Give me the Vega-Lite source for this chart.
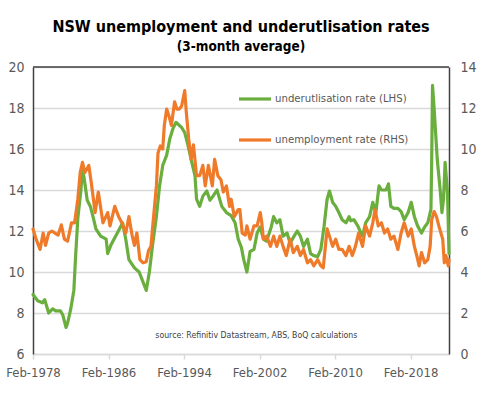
{
  "$schema": "https://vega.github.io/schema/vega-lite/v6.json",
  "width": 416,
  "height": 287,
  "autosize": {"type": "none"},
  "padding": {"left": 33, "top": 67, "right": 35, "bottom": 41},
  "title": {
    "text": "NSW unemployment and underutlisation rates",
    "subtitle": "(3-month average)",
    "font": "DejaVu Sans Condensed, Liberation Sans, sans-serif",
    "subtitleFont": "DejaVu Sans Condensed, Liberation Sans, sans-serif",
    "fontSize": 16,
    "fontWeight": "bold",
    "subtitleFontSize": 13.5,
    "subtitleFontWeight": "bold",
    "color": "#000000",
    "subtitleColor": "#000000",
    "anchor": "middle",
    "frame": "group",
    "offset": 7,
    "subtitlePadding": 5
  },
  "config": {
    "view": {"stroke": null},
    "font": "DejaVu Sans Condensed, Liberation Sans, sans-serif",
    "axis": {
      "labelFont": "DejaVu Sans Condensed, Liberation Sans, sans-serif",
      "labelColor": "#595959",
      "labelFontSize": 14,
      "title": null,
      "grid": false,
      "ticks": false,
      "domain": false
    }
  },
  "resolve": {"scale": {"y": "independent"}},
  "layer": [
    {
      "data": {"values": [
        {"d": "1978-02", "u": 8.9}, {"d": "1978-08", "u": 8.6}, {"d": "1979-02", "u": 8.5}, {"d": "1979-05", "u": 8.65},
        {"d": "1979-10", "u": 8.0}, {"d": "1980-03", "u": 8.2}, {"d": "1980-07", "u": 8.1}, {"d": "1981-01", "u": 8.1},
        {"d": "1981-04", "u": 7.9}, {"d": "1981-08", "u": 7.3}, {"d": "1981-10", "u": 7.5}, {"d": "1982-02", "u": 8.2},
        {"d": "1982-06", "u": 9.1}, {"d": "1982-08", "u": 10.6}, {"d": "1982-11", "u": 12.6}, {"d": "1983-03", "u": 14.0},
        {"d": "1983-05", "u": 15.0}, {"d": "1983-07", "u": 14.6}, {"d": "1983-11", "u": 13.5}, {"d": "1984-03", "u": 13.2},
        {"d": "1984-07", "u": 12.6}, {"d": "1984-10", "u": 12.1}, {"d": "1985-04", "u": 11.75}, {"d": "1985-11", "u": 11.6},
        {"d": "1986-01", "u": 10.9}, {"d": "1986-05", "u": 11.3}, {"d": "1986-09", "u": 11.6}, {"d": "1987-04", "u": 12.1},
        {"d": "1987-08", "u": 12.4}, {"d": "1987-12", "u": 11.6}, {"d": "1988-04", "u": 10.6}, {"d": "1988-11", "u": 10.2},
        {"d": "1989-05", "u": 10.0}, {"d": "1989-09", "u": 9.6}, {"d": "1990-02", "u": 9.1}, {"d": "1990-06", "u": 10.0},
        {"d": "1990-10", "u": 11.3}, {"d": "1991-03", "u": 12.7}, {"d": "1991-07", "u": 14.2}, {"d": "1991-11", "u": 15.2},
        {"d": "1992-04", "u": 15.7}, {"d": "1992-08", "u": 16.5}, {"d": "1992-12", "u": 17.0}, {"d": "1993-04", "u": 17.3},
        {"d": "1993-11", "u": 17.05}, {"d": "1994-03", "u": 16.8}, {"d": "1994-07", "u": 16.2}, {"d": "1994-11", "u": 15.5},
        {"d": "1995-04", "u": 14.7}, {"d": "1995-06", "u": 13.55}, {"d": "1995-10", "u": 13.2}, {"d": "1996-02", "u": 13.7},
        {"d": "1996-07", "u": 13.95}, {"d": "1996-11", "u": 13.5}, {"d": "1997-03", "u": 13.7}, {"d": "1997-08", "u": 14.0},
        {"d": "1998-02", "u": 13.2}, {"d": "1998-08", "u": 12.9}, {"d": "1999-02", "u": 12.75}, {"d": "1999-07", "u": 12.4},
        {"d": "1999-11", "u": 11.6}, {"d": "2000-03", "u": 11.2}, {"d": "2000-06", "u": 10.6}, {"d": "2000-10", "u": 10.0},
        {"d": "2001-02", "u": 11.0}, {"d": "2001-07", "u": 11.1}, {"d": "2001-11", "u": 11.9}, {"d": "2002-03", "u": 12.2},
        {"d": "2002-07", "u": 11.6}, {"d": "2002-11", "u": 11.5}, {"d": "2003-05", "u": 12.2}, {"d": "2003-08", "u": 12.7},
        {"d": "2003-12", "u": 12.4}, {"d": "2004-04", "u": 12.55}, {"d": "2004-08", "u": 11.75}, {"d": "2005-01", "u": 11.9},
        {"d": "2005-05", "u": 11.4}, {"d": "2005-10", "u": 11.75}, {"d": "2006-02", "u": 12.0}, {"d": "2006-06", "u": 11.75},
        {"d": "2006-10", "u": 11.25}, {"d": "2007-03", "u": 11.6}, {"d": "2007-07", "u": 10.9}, {"d": "2007-11", "u": 10.8},
        {"d": "2008-04", "u": 10.75}, {"d": "2008-08", "u": 11.1}, {"d": "2008-12", "u": 12.2}, {"d": "2009-04", "u": 13.55},
        {"d": "2009-07", "u": 13.95}, {"d": "2009-11", "u": 13.4}, {"d": "2010-03", "u": 13.2}, {"d": "2010-07", "u": 12.9},
        {"d": "2010-11", "u": 12.55}, {"d": "2011-04", "u": 12.4}, {"d": "2011-08", "u": 12.7}, {"d": "2011-10", "u": 12.5},
        {"d": "2012-02", "u": 12.55}, {"d": "2012-07", "u": 12.25}, {"d": "2012-11", "u": 11.9}, {"d": "2013-01", "u": 11.75},
        {"d": "2013-05", "u": 12.4}, {"d": "2013-10", "u": 12.7}, {"d": "2014-02", "u": 13.4}, {"d": "2014-06", "u": 12.9},
        {"d": "2014-10", "u": 14.2}, {"d": "2015-01", "u": 14.0}, {"d": "2015-07", "u": 14.0}, {"d": "2015-10", "u": 14.3},
        {"d": "2016-01", "u": 13.2}, {"d": "2016-05", "u": 13.1}, {"d": "2016-10", "u": 13.1}, {"d": "2017-02", "u": 12.95},
        {"d": "2017-06", "u": 12.55}, {"d": "2017-11", "u": 12.9}, {"d": "2018-03", "u": 13.4}, {"d": "2018-07", "u": 12.7},
        {"d": "2018-11", "u": 12.25}, {"d": "2019-04", "u": 11.9}, {"d": "2019-08", "u": 12.2}, {"d": "2019-12", "u": 12.4},
        {"d": "2020-04", "u": 13.05}, {"d": "2020-05", "u": 15.5}, {"d": "2020-06", "u": 19.1}, {"d": "2020-08", "u": 18.0},
        {"d": "2020-12", "u": 15.5}, {"d": "2021-04", "u": 13.9}, {"d": "2021-06", "u": 12.9}, {"d": "2021-08", "u": 13.55},
        {"d": "2021-10", "u": 15.35}, {"d": "2022-01", "u": 13.9}, {"d": "2022-03", "u": 10.9}
      ]},
      "mark": {"type": "line", "strokeWidth": 3.2, "strokeJoin": "round", "strokeCap": "round"},
      "encoding": {
        "x": {
          "field": "d", "type": "temporal",
          "scale": {"domain": ["1978-02-01", "2022-03-01"]},
          "axis": {
            "values": [
              {"year": 1978, "month": 2, "date": 1}, {"year": 1986, "month": 2, "date": 1},
              {"year": 1994, "month": 2, "date": 1}, {"year": 2002, "month": 2, "date": 1},
              {"year": 2010, "month": 2, "date": 1}, {"year": 2018, "month": 2, "date": 1}
            ],
            "format": "%b-%Y",
            "labelFontSize": 13,
            "domain": true, "domainColor": "#D9D9D9", "domainWidth": 1.5,
            "ticks": true, "tickColor": "#D9D9D9", "tickSize": 5, "tickWidth": 1.5,
            "labelPadding": 7, "labelFlush": false, "labelOverlap": false
          }
        },
        "y": {
          "field": "u", "type": "quantitative",
          "scale": {"domain": [6, 20], "nice": false, "zero": false},
          "axis": {
            "orient": "left", "values": [6, 8, 10, 12, 14, 16, 18, 20],
            "grid": true, "gridColor": "#D9D9D9", "gridWidth": 1.5,
            "domain": true, "domainColor": "#404040", "domainWidth": 1.5,
            "labelPadding": 9
          }
        },
        "color": {
          "datum": "underutlisation rate (LHS)", "type": "nominal",
          "scale": {"domain": ["underutlisation rate (LHS)", "unemployment rate (RHS)"], "range": ["#6AAE3E", "#EF7B2A"]},
          "legend": {
            "orient": "none", "legendX": 204, "legendY": 14, "title": null,
            "symbolType": "stroke", "symbolSize": 1024, "symbolStrokeWidth": 3.2,
            "labelFont": "DejaVu Sans Condensed, Liberation Sans, sans-serif", "labelFontSize": 11.3, "labelColor": "#595959",
            "rowPadding": 16, "labelOffset": 2
          }
        }
      }
    },
    {
      "data": {"values": [
        {"d": "1978-02", "r": 6.1}, {"d": "1978-06", "r": 5.6}, {"d": "1978-11", "r": 5.1}, {"d": "1979-03", "r": 5.9},
        {"d": "1979-06", "r": 5.3}, {"d": "1979-10", "r": 5.9}, {"d": "1980-02", "r": 6.0}, {"d": "1980-06", "r": 5.9},
        {"d": "1980-10", "r": 5.8}, {"d": "1981-02", "r": 6.3}, {"d": "1981-06", "r": 5.6}, {"d": "1981-10", "r": 5.5},
        {"d": "1982-03", "r": 6.4}, {"d": "1982-07", "r": 6.4}, {"d": "1982-11", "r": 7.55}, {"d": "1983-02", "r": 8.85},
        {"d": "1983-05", "r": 9.35}, {"d": "1983-08", "r": 8.85}, {"d": "1984-01", "r": 9.2}, {"d": "1984-04", "r": 8.4},
        {"d": "1984-09", "r": 6.9}, {"d": "1985-01", "r": 7.9}, {"d": "1985-07", "r": 6.4}, {"d": "1986-01", "r": 6.9},
        {"d": "1986-04", "r": 6.25}, {"d": "1986-10", "r": 7.2}, {"d": "1987-03", "r": 6.7}, {"d": "1987-07", "r": 6.4},
        {"d": "1987-12", "r": 5.9}, {"d": "1988-04", "r": 6.7}, {"d": "1988-08", "r": 5.8}, {"d": "1988-11", "r": 5.3},
        {"d": "1989-02", "r": 5.9}, {"d": "1989-06", "r": 4.6}, {"d": "1989-10", "r": 4.45}, {"d": "1990-02", "r": 4.5},
        {"d": "1990-05", "r": 5.05}, {"d": "1990-08", "r": 5.25}, {"d": "1990-11", "r": 6.55}, {"d": "1991-03", "r": 8.2},
        {"d": "1991-05", "r": 9.8}, {"d": "1991-08", "r": 10.15}, {"d": "1991-11", "r": 10.0}, {"d": "1992-01", "r": 11.15},
        {"d": "1992-04", "r": 11.95}, {"d": "1992-07", "r": 11.6}, {"d": "1992-10", "r": 11.15}, {"d": "1993-02", "r": 12.3},
        {"d": "1993-05", "r": 11.95}, {"d": "1993-08", "r": 11.95}, {"d": "1993-11", "r": 12.1}, {"d": "1994-03", "r": 12.85},
        {"d": "1994-05", "r": 11.8}, {"d": "1994-08", "r": 10.5}, {"d": "1994-11", "r": 9.5}, {"d": "1995-02", "r": 10.2},
        {"d": "1995-06", "r": 8.7}, {"d": "1995-10", "r": 8.7}, {"d": "1996-02", "r": 9.2}, {"d": "1996-05", "r": 8.2},
        {"d": "1996-09", "r": 9.2}, {"d": "1997-02", "r": 8.2}, {"d": "1997-05", "r": 9.5}, {"d": "1997-09", "r": 8.7},
        {"d": "1998-01", "r": 8.5}, {"d": "1998-04", "r": 7.9}, {"d": "1998-08", "r": 8.2}, {"d": "1998-12", "r": 7.2},
        {"d": "1999-02", "r": 7.55}, {"d": "1999-06", "r": 6.7}, {"d": "1999-11", "r": 7.05}, {"d": "2000-01", "r": 7.05},
        {"d": "2000-04", "r": 5.9}, {"d": "2000-08", "r": 5.8}, {"d": "2000-10", "r": 6.25}, {"d": "2001-02", "r": 5.6},
        {"d": "2001-07", "r": 6.25}, {"d": "2001-11", "r": 6.25}, {"d": "2002-03", "r": 6.9}, {"d": "2002-05", "r": 6.4},
        {"d": "2002-07", "r": 5.6}, {"d": "2002-11", "r": 5.75}, {"d": "2003-04", "r": 5.25}, {"d": "2003-08", "r": 5.75},
        {"d": "2003-12", "r": 5.25}, {"d": "2004-04", "r": 5.75}, {"d": "2004-08", "r": 5.25}, {"d": "2004-12", "r": 4.8},
        {"d": "2005-05", "r": 5.6}, {"d": "2005-09", "r": 4.95}, {"d": "2006-02", "r": 5.25}, {"d": "2006-06", "r": 4.8},
        {"d": "2006-10", "r": 5.1}, {"d": "2007-03", "r": 4.45}, {"d": "2007-07", "r": 4.6}, {"d": "2007-11", "r": 4.3},
        {"d": "2008-04", "r": 4.6}, {"d": "2008-08", "r": 4.3}, {"d": "2008-11", "r": 4.2}, {"d": "2009-01", "r": 4.95},
        {"d": "2009-04", "r": 6.1}, {"d": "2009-07", "r": 5.75}, {"d": "2009-11", "r": 5.25}, {"d": "2010-03", "r": 5.6},
        {"d": "2010-07", "r": 5.1}, {"d": "2010-11", "r": 5.1}, {"d": "2011-04", "r": 4.8}, {"d": "2011-08", "r": 5.25},
        {"d": "2011-12", "r": 4.8}, {"d": "2012-04", "r": 5.25}, {"d": "2012-08", "r": 5.9}, {"d": "2013-01", "r": 5.25},
        {"d": "2013-05", "r": 6.25}, {"d": "2013-10", "r": 5.75}, {"d": "2014-02", "r": 6.4}, {"d": "2014-05", "r": 7.05},
        {"d": "2014-09", "r": 6.25}, {"d": "2015-01", "r": 6.4}, {"d": "2015-05", "r": 5.9}, {"d": "2015-09", "r": 6.1},
        {"d": "2016-01", "r": 5.6}, {"d": "2016-05", "r": 5.75}, {"d": "2016-10", "r": 5.1}, {"d": "2017-02", "r": 5.9},
        {"d": "2017-06", "r": 6.4}, {"d": "2017-11", "r": 5.75}, {"d": "2018-03", "r": 6.1}, {"d": "2018-07", "r": 5.25},
        {"d": "2018-10", "r": 4.8}, {"d": "2019-01", "r": 4.3}, {"d": "2019-04", "r": 4.95}, {"d": "2019-08", "r": 4.45},
        {"d": "2019-12", "r": 4.6}, {"d": "2020-03", "r": 5.25}, {"d": "2020-05", "r": 6.55}, {"d": "2020-08", "r": 6.95},
        {"d": "2020-11", "r": 6.7}, {"d": "2021-02", "r": 6.25}, {"d": "2021-07", "r": 5.6}, {"d": "2021-09", "r": 4.45},
        {"d": "2021-11", "r": 4.8}, {"d": "2022-02", "r": 4.3}, {"d": "2022-03", "r": 4.6}
      ]},
      "mark": {"type": "line", "strokeWidth": 3.2, "strokeJoin": "round", "strokeCap": "round"},
      "encoding": {
        "x": {"field": "d", "type": "temporal"},
        "y": {
          "field": "r", "type": "quantitative",
          "scale": {"domain": [0, 14], "nice": false},
          "axis": {
            "orient": "right", "values": [0, 2, 4, 6, 8, 10, 12, 14],
            "domain": true, "domainColor": "#404040", "domainWidth": 1.5,
            "labelPadding": 11
          }
        },
        "color": {"datum": "unemployment rate (RHS)", "type": "nominal"}
      }
    },
    {
      "data": {"values": [{"top": 20}]},
      "mark": {"type": "rule", "color": "#404040", "strokeWidth": 1.5},
      "encoding": {
        "y": {"field": "top", "type": "quantitative", "scale": {"domain": [6, 20], "nice": false, "zero": false}, "axis": null}
      }
    },
    {
      "data": {"values": [{"note": "source:  Refinitiv Datastream, ABS, BoQ calculations", "d": "2001-10-01", "v": 6.93}]},
      "mark": {"type": "text", "fontSize": 8.7, "color": "#404040", "font": "DejaVu Sans Condensed, Liberation Sans, sans-serif", "align": "center", "baseline": "middle"},
      "encoding": {
        "x": {"field": "d", "type": "temporal"},
        "y": {"field": "v", "type": "quantitative", "scale": {"domain": [6, 20], "nice": false, "zero": false}, "axis": null},
        "text": {"field": "note"}
      }
    }
  ]
}
